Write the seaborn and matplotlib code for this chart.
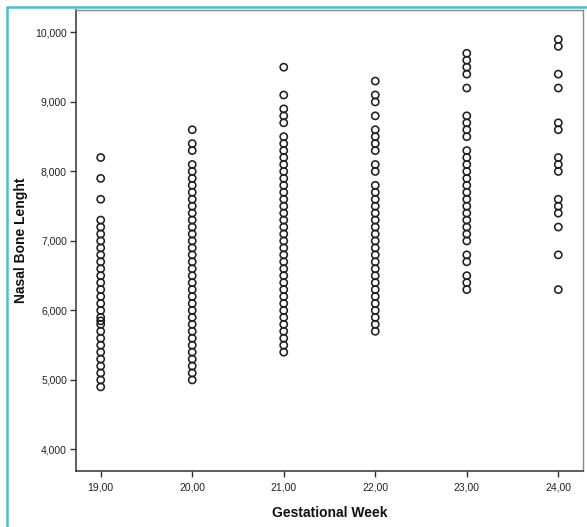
import matplotlib
matplotlib.use("Agg")
import matplotlib.pyplot as plt
import seaborn as sns
import pandas as pd
from matplotlib.ticker import FuncFormatter
from matplotlib.lines import Line2D

# ---- data ----
week19 = [8.2, 7.9, 7.6, 7.3, 7.2, 7.1, 7.0, 6.9, 6.8, 6.7, 6.6, 6.5, 6.4, 6.3,
          6.2, 6.1, 6.0, 5.9, 5.85, 5.8, 5.7, 5.6, 5.5, 5.4, 5.3, 5.2, 5.1, 5.0, 4.9]
week20 = [8.6, 8.4, 8.3, 8.1, 8.0, 7.9, 7.8, 7.7, 7.6, 7.5, 7.4, 7.3, 7.2, 7.1,
          7.0, 6.9, 6.8, 6.7, 6.6, 6.5, 6.4, 6.3, 6.2, 6.1, 6.0, 5.9, 5.8, 5.7,
          5.6, 5.5, 5.4, 5.3, 5.2, 5.1, 5.0]
week21 = [9.5, 9.1, 8.9, 8.8, 8.7, 8.5, 8.4, 8.3, 8.2, 8.1, 8.0, 7.9, 7.8, 7.7,
          7.6, 7.5, 7.4, 7.3, 7.2, 7.1, 7.0, 6.9, 6.8, 6.7, 6.6, 6.5, 6.4, 6.3,
          6.2, 6.1, 6.0, 5.9, 5.8, 5.7, 5.6, 5.5, 5.4]
week22 = [9.3, 9.1, 9.0, 8.8, 8.6, 8.5, 8.4, 8.3, 8.1, 8.0, 7.8, 7.7, 7.6, 7.5,
          7.4, 7.3, 7.2, 7.1, 7.0, 6.9, 6.8, 6.7, 6.6, 6.5, 6.4, 6.3, 6.2, 6.1,
          6.0, 5.9, 5.8, 5.7]
week23 = [9.7, 9.6, 9.5, 9.4, 9.2, 8.8, 8.7, 8.6, 8.5, 8.3, 8.2, 8.1, 8.0, 7.9,
          7.8, 7.7, 7.6, 7.5, 7.4, 7.3, 7.2, 7.1, 7.0, 6.8, 6.7, 6.5, 6.4, 6.3]
week24 = [9.9, 9.8, 9.4, 9.2, 8.7, 8.6, 8.2, 8.1, 8.0, 7.6, 7.5, 7.4, 7.2, 6.8, 6.3]

weeks = [19, 20, 21, 22, 23, 24]
lengths = [week19, week20, week21, week22, week23, week24]
x_ticks = [19, 20, 21, 22, 23, 24]
y_ticks = [4, 5, 6, 7, 8, 9, 10]

rows = []
for w, vals in zip(weeks, lengths):
    for v in vals:
        rows.append({"week": w, "length": v})
df = pd.DataFrame(rows)

sns.set_style("white")
plt.rcParams['font.family'] = ['Liberation Sans', 'DejaVu Sans']

fig = plt.figure(figsize=(5.87, 5.27), dpi=100)
ax = fig.add_axes([76/587, 1 - 471/527, (583 - 76)/587, (471 - 9.5)/527])

sns.scatterplot(data=df, x="week", y="length", ax=ax, s=27,
                facecolor="none", edgecolor="#1f1f1f", linewidth=1.15,
                marker="o", legend=False)

ax.set_xlim(18.73, 24.27)
ax.set_ylim(3.69, 10.33)
ax.set_xticks(x_ticks)
ax.set_yticks(y_ticks)
ax.xaxis.set_major_formatter(FuncFormatter(lambda v, p: f"{v:.2f}".replace(".", ",")))
ax.yaxis.set_major_formatter(FuncFormatter(lambda v, p: f"{v:.3f}".replace(".", ",")))
ax.tick_params(axis="both", which="major", direction="out", length=4.5, width=1,
               color="#333333", labelsize=7.5, labelcolor="#222222", pad=2,
               left=True, bottom=True)
ax.tick_params(axis="x", pad=4)

for side in ["left", "bottom"]:
    ax.spines[side].set_color("#333333")
    ax.spines[side].set_linewidth(1.1)
for side in ["top", "right"]:
    ax.spines[side].set_color("#888888")
    ax.spines[side].set_linewidth(1.0)

ax.set_xlabel("Gestational Week", fontsize=10, fontweight="bold", color="#111111")
ax.set_ylabel("Nasal Bone Lenght", fontsize=10, fontweight="bold", color="#111111")
ax.xaxis.set_label_coords((330 - 76)/(583 - 76), -(506 - 471)/(471 - 9.5))
ax.yaxis.set_label_coords(-(76 - 28)/(583 - 76), 0.5)

# cyan frame lines around the picture
cyan = "#4bbfd2"
fig.add_artist(Line2D([7/587, 7/587], [0, 1 - 7/527], transform=fig.transFigure,
                      color=cyan, linewidth=1.8))
fig.add_artist(Line2D([7/587, 1], [1 - 7/527, 1 - 7/527], transform=fig.transFigure,
                      color=cyan, linewidth=1.8))

fig.savefig("out.png", dpi=100)
